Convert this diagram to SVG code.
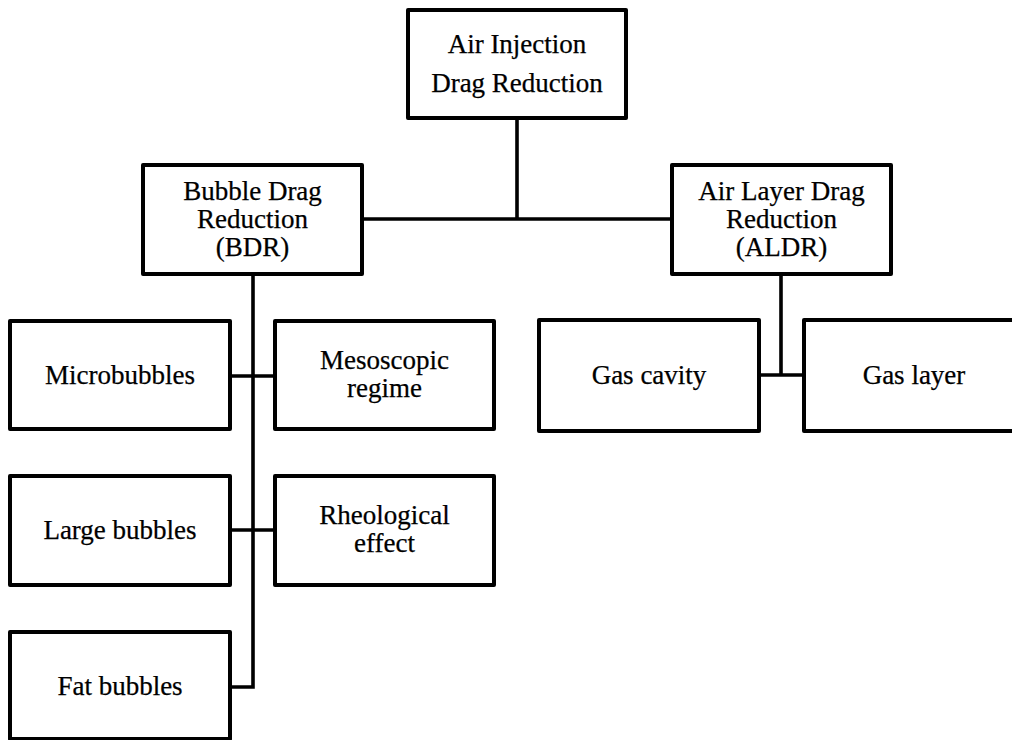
<svg xmlns="http://www.w3.org/2000/svg" width="1012" height="740" viewBox="0 0 1012 740">
<style>
.box{fill:#fff;stroke:#000;stroke-width:4;stroke-linejoin:round}
.lbl{font-family:"Liberation Serif","Times New Roman",serif;font-size:27px;fill:#000;stroke:#000;stroke-width:0.25;text-anchor:middle}
.con{fill:none;stroke:#000;stroke-width:3.6}
</style>
<rect width="1012" height="740" fill="#fff"/>
<g id="connectors">
<path class="con" d="M517,118 V219 M362,219 H672"/>
<path class="con" d="M253,274 V687 H230 M230,376 H275 M230,530 H275"/>
<path class="con" d="M781,274 V375 M759,375 H804"/>
</g>
<g id="n-root">
<rect class="box" x="408" y="10" width="218" height="108"/>
<text class="lbl" x="517" y="53">Air Injection</text>
<text class="lbl" x="517" y="92">Drag Reduction</text>
</g>
<g id="n-bdr">
<rect class="box" x="143" y="165" width="219" height="109"/>
<text class="lbl" x="252.5" y="200">Bubble Drag</text>
<text class="lbl" x="252.5" y="228">Reduction</text>
<text class="lbl" x="252.5" y="256">(BDR)</text>
</g>
<g id="n-aldr">
<rect class="box" x="672" y="165" width="219" height="109"/>
<text class="lbl" x="781.5" y="200">Air Layer Drag</text>
<text class="lbl" x="781.5" y="228">Reduction</text>
<text class="lbl" x="781.5" y="256">(ALDR)</text>
</g>
<g id="n-micro">
<rect class="box" x="10" y="321" width="220" height="108"/>
<text class="lbl" x="120" y="384">Microbubbles</text>
</g>
<g id="n-meso">
<rect class="box" x="275" y="321" width="219" height="108"/>
<text class="lbl" x="384.5" y="369">Mesoscopic</text>
<text class="lbl" x="384.5" y="397">regime</text>
</g>
<g id="n-large">
<rect class="box" x="10" y="476" width="220" height="109"/>
<text class="lbl" x="120" y="539">Large bubbles</text>
</g>
<g id="n-rheo">
<rect class="box" x="275" y="476" width="219" height="109"/>
<text class="lbl" x="384.5" y="524">Rheological</text>
<text class="lbl" x="384.5" y="552">effect</text>
</g>
<g id="n-fat">
<rect class="box" x="10" y="632" width="220" height="107"/>
<text class="lbl" x="120" y="695">Fat bubbles</text>
</g>
<g id="n-cavity">
<rect class="box" x="539" y="320" width="220" height="111"/>
<text class="lbl" x="649" y="384">Gas cavity</text>
</g>
<g id="n-layer">
<rect class="box" x="804" y="320" width="220" height="111"/>
<text class="lbl" x="914" y="384">Gas layer</text>
</g>
</svg>
